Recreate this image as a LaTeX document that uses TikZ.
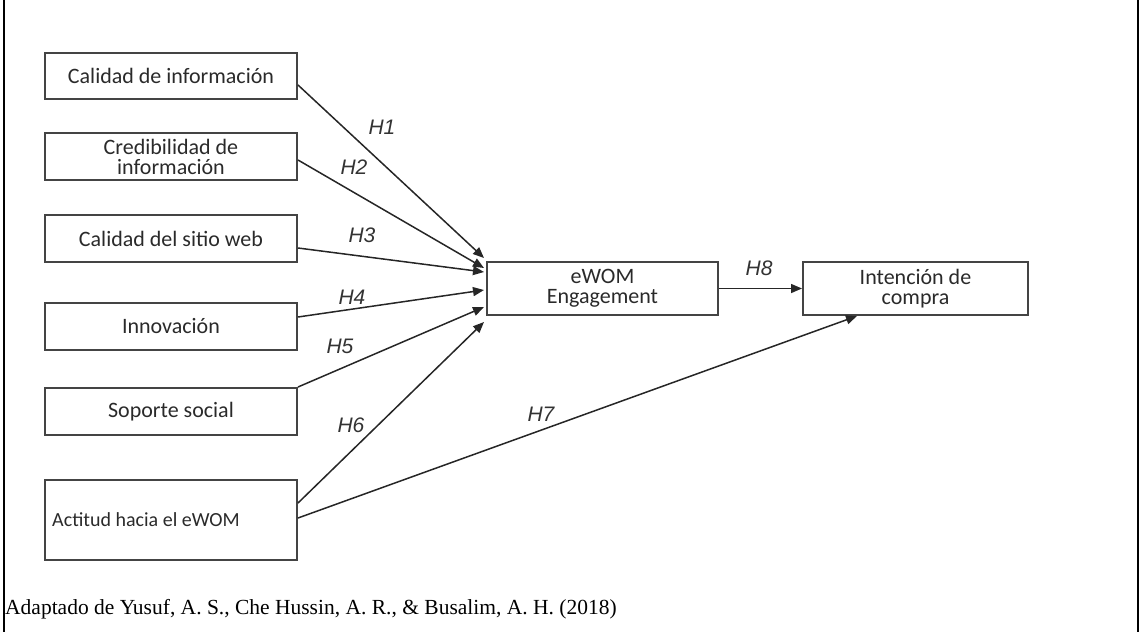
\documentclass[tikz,border=0pt]{standalone}
\usepackage{fontspec}
\setmainfont{Liberation Serif}
\newfontfamily\boxfont{Carlito}
\newfontfamily\labfont{Liberation Sans}
\usetikzlibrary{arrows.meta,calc}
\definecolor{boxline}{HTML}{444444}
\definecolor{boxtext}{HTML}{2A2A2A}
\tikzset{
  varbox/.style={draw=boxline,line width=2pt,minimum width=252pt,minimum height=47pt,
    inner sep=0pt,align=center,text=boxtext,font=\boxfont\fontsize{22}{24}\selectfont},
  arr/.style={draw=black!85,line width=1.5pt,-{Triangle[length=11pt,width=9pt]}},
  hlab/.style={font=\labfont\itshape\fontsize{21}{23}\selectfont,text=black!80,inner sep=0pt},
  frame/.style={line width=2.2pt,black}
}
\begin{document}
\begin{tikzpicture}[x=1pt,y=-1pt]
\useasboundingbox (0,0) rectangle (1145,632);
\draw[frame] (4,0) -- (4,632);
\draw[frame] (1138,0) -- (1138,632);

\node[varbox,minimum height=46pt] (b1) at (171,76) {Calidad de información};
\node[varbox] (b2) at (171,156.5) {Credibilidad de\\[-4pt]información};
\node[varbox] (b3) at (171,238.5) {Calidad del sitio web};
\node[varbox] (b4) at (171,326) {Innovación};
\node[varbox] (b5) at (171,411.5) {Soporte social};
\node[varbox,minimum height=80pt,font=\boxfont\fontsize{20}{22}\selectfont] (b6) at (171,520) {\hspace*{-50pt}Actitud hacia el eWOM};
\node[varbox,minimum width=231pt,minimum height=53pt] (ew) at (602.5,288.5) {eWOM\\[-4pt]Engagement};
\node[varbox,minimum width=225pt,minimum height=53pt] (ic) at (915.5,288.5) {Intención de\\[-4pt]compra};

\draw[arr] ([yshift=-9pt]b1.east) -- ([xshift=-2pt,yshift=30.5pt]ew.west);
\draw[arr] ([yshift=-3.5pt]b2.east) -- ([xshift=-2pt,yshift=20.5pt]ew.west);
\draw[arr] ([yshift=-9.5pt]b3.east) -- ([xshift=-2pt,yshift=16.5pt]ew.west);
\draw[arr] ([yshift=9pt]b4.east) -- ([xshift=-2pt,yshift=-1.5pt]ew.west);
\draw[arr] (b5.north east) -- ([xshift=-2pt,yshift=-18.5pt]ew.west);
\draw[arr] ([yshift=17pt]b6.east) -- ([xshift=-2pt,yshift=-33.5pt]ew.west);
\draw[arr] ([yshift=2pt]b6.east) -- ([xshift=55pt]ic.south west);
\draw[arr] (ew.east) -- (ic.west);

\node[hlab] (h1) at (382,127) {H1};
\node[hlab] (h2) at (354,167) {H2};
\node[hlab] (h3) at (362,235) {H3};
\node[hlab] (h4) at (352,297) {H4};
\node[hlab] (h5) at (340,346) {H5};
\node[hlab] (h6) at (351,425) {H6};
\node[hlab] (h7) at (541,414) {H7};
\node[hlab] (h8) at (759,268) {H8};

\node[anchor=west,inner sep=0pt,font=\fontsize{21.5}{24}\selectfont] (cap) at (5,609)
  {Adaptado de Yusuf, A. S., Che Hussin, A. R., \& Busalim, A. H. (2018)};
\end{tikzpicture}
\end{document}
